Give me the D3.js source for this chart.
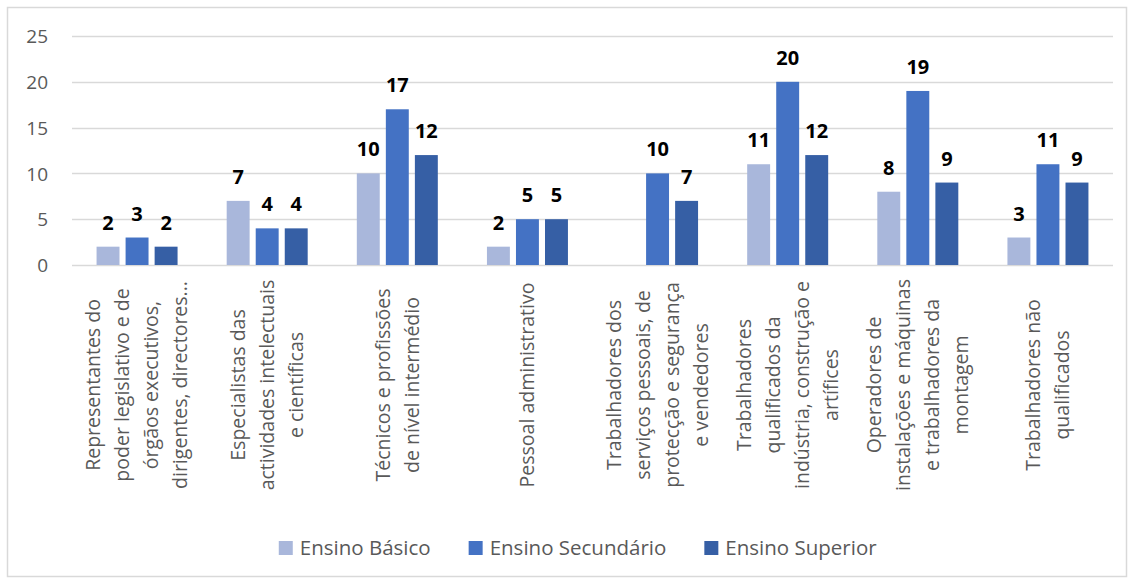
<!DOCTYPE html>
<html>
<head>
<meta charset="utf-8">
<script src="https://cdn.jsdelivr.net/npm/d3@7"></script>
<style>
  html, body { margin: 0; padding: 0; background: #fff; }
  svg { display: block; }
</style>
</head>
<body>
<svg id="chart" width="1134" height="582"></svg>
<script>
const categories = [
  ["Representantes do", "poder legislativo e de", "órgãos executivos,", "dirigentes, directores..."],
  ["Especialistas das", "actividades intelectuais", "e científicas"],
  ["Técnicos e profissões", "de nível intermédio"],
  ["Pessoal administrativo"],
  ["Trabalhadores dos", "serviços pessoais, de", "protecção e segurança", "e vendedores"],
  ["Trabalhadores", "qualificados da", "indústria, construção e", "artífices"],
  ["Operadores de", "instalações e máquinas", "e trabalhadores da", "montagem"],
  ["Trabalhadores não", "qualificados"]
];
const seriesNames = ["Ensino Básico", "Ensino Secundário", "Ensino Superior"];
const ensinoBasico = [2, 7, 10, 2, null, 11, 8, 3];
const ensinoSecundario = [3, 4, 17, 5, 10, 20, 19, 11];
const ensinoSuperior = [2, 4, 12, 5, 7, 12, 9, 9];
const yTicks = [0, 5, 10, 15, 20, 25];
const colors = ["#A9B7DB", "#4472C4", "#365FA5"];

const seriesValues = [ensinoBasico, ensinoSecundario, ensinoSuperior];
const svg = d3.select("#chart");
const font = "'Open Sans', 'DejaVu Sans', sans-serif";

// outer border
svg.append("rect").attr("x", 7.5).attr("y", 7.5).attr("width", 1119).attr("height", 569)
  .attr("fill", "#fff").attr("stroke", "#D9D9D9").attr("stroke-width", 1.5);

const plot = { left: 72, right: 1113, top: 36, bottom: 265 };
const idx = categories.map((d, i) => i);

const x0 = d3.scaleBand().domain(idx).range([plot.left, plot.right]).paddingInner(0).paddingOuter(0);
const innerW = 81;
const x1 = d3.scaleBand().domain(d3.range(seriesNames.length)).range([0, innerW]).paddingInner(0.21).paddingOuter(0);
const y = d3.scaleLinear().domain([0, 25]).range([plot.bottom, plot.top]);

// gridlines
svg.append("g").selectAll("line").data(yTicks).join("line")
  .attr("x1", plot.left).attr("x2", plot.right)
  .attr("y1", d => Math.round(y(d)) + 0.5).attr("y2", d => Math.round(y(d)) + 0.5)
  .attr("stroke", "#D9D9D9").attr("stroke-width", 1.5);

// y tick labels
const yAxis = d3.axisLeft(y).tickValues(yTicks).tickSize(0).tickPadding(0);
const yg = svg.append("g").attr("transform", "translate(48,0)").call(yAxis);
yg.select(".domain").remove();
yg.selectAll("text").attr("font-family", font).attr("font-size", 19).attr("fill", "#595959")
  .attr("dy", "0.35em");

// bars
const groups = svg.append("g").selectAll("g").data(idx).join("g")
  .attr("transform", i => `translate(${x0(i) + (x0.bandwidth() - innerW) / 2},0)`);

groups.each(function(i) {
  const g = d3.select(this);
  const data = seriesValues.map((s, k) => ({ k, v: s[i] })).filter(d => d.v != null);
  g.selectAll("rect").data(data).join("rect")
    .attr("x", d => x1(d.k)).attr("width", x1.bandwidth())
    .attr("y", d => y(d.v)).attr("height", d => y(0) - y(d.v))
    .attr("fill", d => colors[d.k]);
  g.selectAll("text").data(data).join("text")
    .attr("x", d => x1(d.k) + x1.bandwidth() / 2)
    .attr("y", d => y(d.v) - 17)
    .attr("text-anchor", "middle")
    .attr("font-family", font).attr("font-weight", "bold").attr("font-size", 20)
    .attr("fill", "#000").text(d => d.v);
});

// category labels (rotated)
const labelCenterY = 385;
const lineStep = 29;
const lab = svg.append("g").selectAll("g").data(idx).join("g")
  .attr("transform", i => `translate(${x0(i) + x0.bandwidth() / 2},${labelCenterY}) rotate(-90)`);
lab.each(function(i) {
  const lines = categories[i];
  const n = lines.length;
  d3.select(this).selectAll("text").data(lines).join("text")
    .attr("x", 0)
    .attr("y", (d, j) => (j - (n - 1) / 2) * lineStep)
    .attr("dy", "0.35em")
    .attr("text-anchor", "middle")
    .attr("font-family", font).attr("font-size", 19.5).attr("fill", "#595959")
    .text(d => d);
});

// legend
const legend = svg.append("g");
const items = legend.selectAll("g").data(seriesNames).join("g");
items.append("rect").attr("width", 14).attr("height", 14).attr("y", -7)
  .attr("fill", (d, k) => colors[k]);
items.append("text").attr("x", 14 + 7).attr("dy", "0.35em")
  .attr("font-family", font).attr("font-size", 20.5).attr("fill", "#595959").text(d => d);
let cx = 0;
const gap = 38;
items.each(function() {
  const w = this.getBBox().width;
  d3.select(this).attr("transform", `translate(${cx},0)`);
  cx += w + gap;
});
const totalW = cx - gap;
legend.attr("transform", `translate(${578 - totalW / 2},548)`);
</script>
</body>
</html>
